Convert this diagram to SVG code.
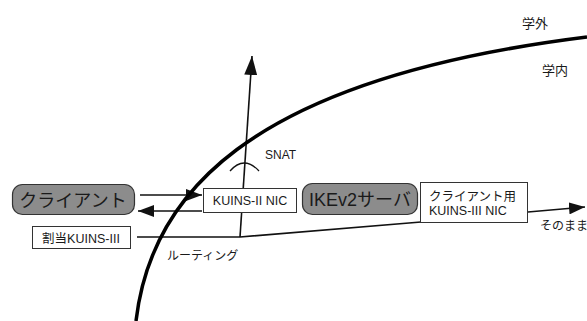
<svg xmlns="http://www.w3.org/2000/svg" width="587" height="321" viewBox="0 0 587 321">
<style>
text{font-family:"Liberation Sans","Noto Sans CJK JP",sans-serif;fill:#1a1a1a}
.box{fill:#fff;stroke:#333;stroke-width:1}
.pill{fill:#8c8c8c;stroke:#333;stroke-width:1.2}
.ln{fill:none;stroke:#111;stroke-width:1.6}
.big{font-size:18px}
.mid{font-size:12.5px}
</style>
<defs>
<marker id="ah" markerUnits="userSpaceOnUse" markerWidth="17" markerHeight="12" refX="16" refY="6" orient="auto">
<path d="M0,0 L16,6 L0,12 z" fill="#111"/>
</marker>
<marker id="ahv" markerUnits="userSpaceOnUse" markerWidth="20" markerHeight="13" refX="19" refY="6.5" orient="auto">
<path d="M0,0 L19,6.5 L0,13 z" fill="#111"/>
</marker>
</defs>
<g id="connectors">
<path class="ln" d="M137,237 L240,237 L421,222"/>
<path class="ln" d="M240,237 L252,56" marker-end="url(#ahv)"/>
<path class="ln" d="M140,195 L202,195" marker-end="url(#ah)"/>
<path class="ln" d="M202,211 L138,211" marker-end="url(#ah)"/>
<path class="ln" d="M528,212 L585,207" marker-end="url(#ah)"/>
<path fill="none" stroke="#111" stroke-width="1.3" d="M230,171 Q244,155 259,171"/>
</g>
<g id="boundary">
<path fill="none" stroke="#000" stroke-width="3.5" d="M136,321 C150,200 240,80 587,37"/>
</g>
<g id="client">
<rect class="pill" x="12.5" y="184.5" width="122" height="30" rx="10"/>
<text class="big" x="73" y="207" text-anchor="middle">クライアント</text>
</g>
<g id="alloc">
<rect class="box" x="32.5" y="226.5" width="98" height="22"/>
<text class="mid" x="81" y="243" text-anchor="middle">割当KUINS-III</text>
</g>
<g id="kuins2nic">
<rect class="box" x="203.5" y="188.5" width="93" height="24"/>
<text class="mid" x="250" y="205" text-anchor="middle">KUINS-II NIC</text>
</g>
<g id="ikev2">
<rect class="pill" x="302.5" y="183.5" width="115" height="31" rx="10"/>
<text class="big" x="360" y="206" text-anchor="middle">IKEv2サーバ</text>
</g>
<g id="clientnic">
<rect class="box" x="420.5" y="182.5" width="107" height="40"/>
<text class="mid" x="429" y="201">クライアント用</text>
<text class="mid" x="429" y="215">KUINS-III NIC</text>
</g>
<g id="labels">
<text x="265" y="159" font-size="12">SNAT</text>
<text x="167" y="260" font-size="12">ルーティング</text>
<text x="540" y="230" font-size="12">そのまま</text>
<text x="522" y="28" font-size="13">学外</text>
<text x="542" y="75" font-size="13">学内</text>
</g>
</svg>
